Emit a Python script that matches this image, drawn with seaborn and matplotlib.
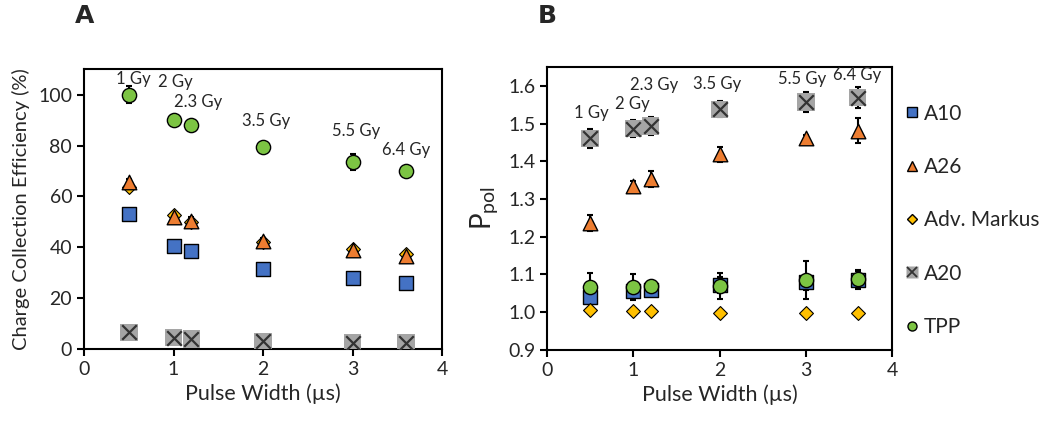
import numpy as np
import matplotlib
matplotlib.use("Agg")
import matplotlib.pyplot as plt
import seaborn as sns
from matplotlib.lines import Line2D

# pulse widths (us)
pulse = [0.5, 1.0, 1.2, 2.0, 3.0, 3.6]
dose_labels = ["1 Gy", "2 Gy", "2.3 Gy", "3.5 Gy", "5.5 Gy", "6.4 Gy"]

# panel A: charge collection efficiency (%)
cce_a10 = [53, 40.5, 38.5, 31.5, 28, 26]
cce_a26 = [65.5, 52, 50.5, 42.5, 39, 36.5]
cce_markus = [63.5, 52.5, 50, 42, 39.5, 37.5]
cce_a20 = [6.5, 4.5, 4, 3, 2.5, 2.5]
cce_tpp = [100, 90, 88, 79.5, 73.5, 70]
cce_tpp_err = [3.3, 1.8, 0.5, 2, 3.3, 0.5]
cce_a26_err = [1.5, 1.2, 1.2, 1.0, 1.0, 1.0]

# panel B: P_pol
ppol_a10 = [1.041, 1.055, 1.060, 1.072, 1.079, 1.086]
ppol_a26 = [1.237, 1.334, 1.353, 1.419, 1.461, 1.481]
ppol_markus = [1.007, 1.004, 1.002, 0.998, 0.998, 0.998]
ppol_a20 = [1.461, 1.487, 1.494, 1.538, 1.558, 1.569]
ppol_tpp = [1.066, 1.066, 1.070, 1.069, 1.086, 1.088]
ppol_a20_err = [0.026, 0.023, 0.023, 0.021, 0.026, 0.028]
ppol_a26_err = [0.021, 0.015, 0.022, 0.02, 0.008, 0.033]
ppol_tpp_err = [0.038, 0.034, 0.01, 0.035, 0.05, 0.02]
ppol_a10_err = [0.01, 0.01, 0.01, 0.02, 0.02, 0.025]

# annotation positions (data coords)
ann_a_x = [0.55, 1.02, 1.28, 2.03, 3.04, 3.6]
ann_a_y = [106, 104.8, 97, 89.5, 85.7, 78.4]
ann_b_x = [0.51, 0.99, 1.24, 1.97, 2.96, 3.6]
ann_b_y = [1.528, 1.552, 1.603, 1.604, 1.618, 1.628]

C_A10 = "#4472C4"
C_A26 = "#ED7D31"
C_MARKUS = "#FFC000"
C_A20 = "#A5A5A5"
C_TPP = "#7CC443"

sns.set_style("ticks")
plt.rcParams["font.family"] = ["Lato", "DejaVu Sans"]
plt.rcParams["mathtext.fontset"] = "custom"
plt.rcParams["mathtext.rm"] = "Lato"
plt.rcParams["mathtext.it"] = "Lato"

fig = plt.figure(figsize=(10.5, 4.22), dpi=100)
axA = fig.add_axes([0.080, 0.173, 0.341, 0.663])
axB = fig.add_axes([0.521, 0.171, 0.3286, 0.670])


def draw(ax, a10, a26, markus, a20, tpp, errs):
    for y, e in errs:
        ax.errorbar(pulse, y, yerr=e, fmt="none", ecolor="black",
                    elinewidth=1.5, capsize=2.5, capthick=1.5, zorder=2)
    sns.scatterplot(x=pulse, y=a10, marker="s", color=C_A10, edgecolor="black",
                    linewidth=1, s=95, ax=ax, zorder=3)
    sns.scatterplot(x=pulse, y=markus, marker="D", color=C_MARKUS, edgecolor="black",
                    linewidth=0.8, s=50, ax=ax, zorder=3)
    sns.scatterplot(x=pulse, y=a26, marker="^", color=C_A26, edgecolor="black",
                    linewidth=1, s=110, ax=ax, zorder=3)
    sns.scatterplot(x=pulse, y=a20, marker="s", color=C_A20, edgecolor="none",
                    s=160, ax=ax, zorder=3)
    sns.scatterplot(x=pulse, y=a20, marker="x", color="#333333",
                    linewidth=1.6, s=110, ax=ax, zorder=4)
    sns.scatterplot(x=pulse, y=tpp, marker="o", color=C_TPP, edgecolor="black",
                    linewidth=1, s=105, ax=ax, zorder=5)


draw(axA, cce_a10, cce_a26, cce_markus, cce_a20, cce_tpp,
     [(cce_tpp, cce_tpp_err), (cce_a26, cce_a26_err)])
draw(axB, ppol_a10, ppol_a26, ppol_markus, ppol_a20, ppol_tpp,
     [(ppol_a20, ppol_a20_err), (ppol_a26, ppol_a26_err),
      (ppol_tpp, ppol_tpp_err), (ppol_a10, ppol_a10_err)])

axA.set_xlim(0, 4)
axA.set_ylim(0, 110)
axA.set_yticks([0, 20, 40, 60, 80, 100])
axA.set_ylabel("Charge Collection Efficiency (%)", fontsize=14.5, labelpad=6)

axB.set_xlim(0, 4)
axB.set_ylim(0.9, 1.65)
axB.set_yticks(np.arange(0.9, 1.61, 0.1))
axB.set_yticklabels([f"{v:.1f}" for v in np.arange(0.9, 1.61, 0.1)])
axB.set_ylabel(r"P$_{\mathrm{pol}}$", fontsize=20, labelpad=6)

for ax in (axA, axB):
    ax.set_xticks([0, 1, 2, 3, 4])
    ax.set_xlabel("Pulse Width (µs)", fontsize=15.5)
    ax.tick_params(labelsize=14, width=1.5, length=5, color="black")
    for sp in ax.spines.values():
        sp.set_visible(True)
        sp.set_linewidth(1.5)
        sp.set_color("black")

for t, x, y in zip(dose_labels, ann_a_x, ann_a_y):
    axA.text(x, y, t, ha="center", va="center", fontsize=12)
for t, x, y in zip(dose_labels, ann_b_x, ann_b_y):
    axB.text(x, y, t, ha="center", va="center", fontsize=12)

fig.text(0.071, 0.962, "A", fontsize=18, fontweight="bold", family="DejaVu Sans",
         va="center", ha="left")
fig.text(0.512, 0.962, "B", fontsize=18, fontweight="bold", family="DejaVu Sans",
         va="center", ha="left")

handles = [
    Line2D([], [], marker="s", ls="none", color=C_A10, mec="black", ms=7),
    Line2D([], [], marker="^", ls="none", color=C_A26, mec="black", ms=7),
    Line2D([], [], marker="D", ls="none", color=C_MARKUS, mec="black", ms=5.5),
    (Line2D([], [], marker="s", ls="none", color=C_A20, mec="none", ms=8),
     Line2D([], [], marker="x", ls="none", color="#333333", mew=1.3, ms=7)),
    Line2D([], [], marker="o", ls="none", color=C_TPP, mec="black", ms=6.5),
]
labels = ["A10", "A26", "Adv. Markus", "A20", "TPP"]
axB.legend(handles, labels, loc="upper left", bbox_to_anchor=(0.99, 0.93),
           frameon=False, fontsize=15, labelspacing=1.6, handlelength=0.6,
           handletextpad=0.3, borderaxespad=0.4)

fig.savefig("out.png", dpi=100)
